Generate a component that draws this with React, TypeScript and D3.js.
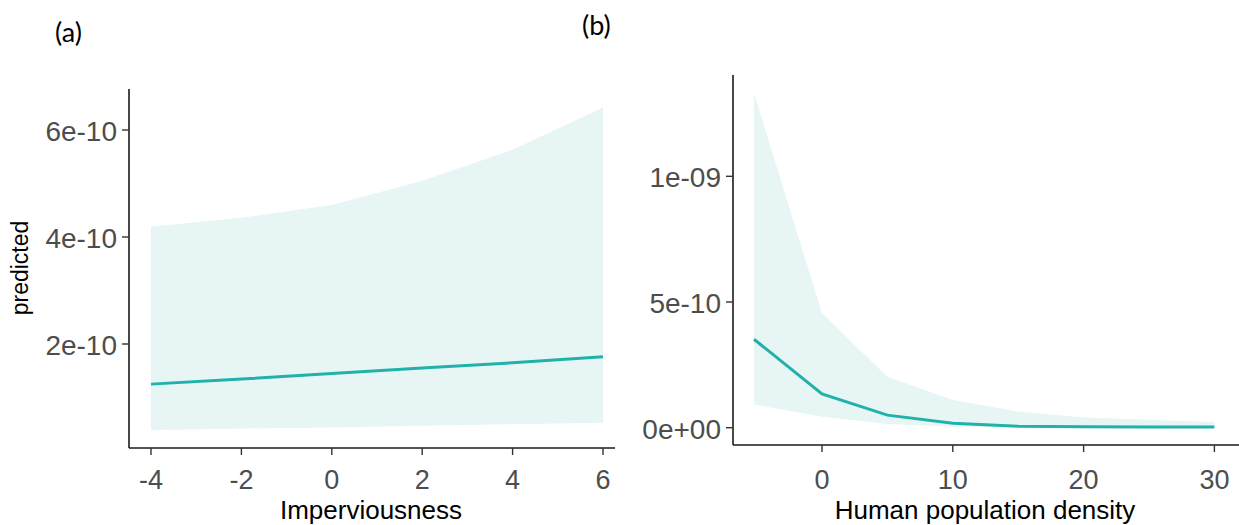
import React from "react";
import * as d3 from "d3";

// Panel (a): Imperviousness
const xA = [-4, -2, 0, 2, 4, 6];
const predA = [1.25e-10, 1.345e-10, 1.45e-10, 1.55e-10, 1.65e-10, 1.76e-10];
const lowA = [3.9e-11, 4.2e-11, 4.4e-11, 4.7e-11, 5.0e-11, 5.3e-11];
const highA = [4.19e-10, 4.36e-10, 4.6e-10, 5.05e-10, 5.63e-10, 6.42e-10];
const xTicksA = [-4, -2, 0, 2, 4, 6];
const yTicksA = [2e-10, 4e-10, 6e-10];
const yTickLabelsA = ["2e-10", "4e-10", "6e-10"];

// Panel (b): Human population density
const xB = [-5.2, 0, 5, 10, 15, 20, 25, 30];
const predB = [3.52e-10, 1.34e-10, 5.0e-11, 1.8e-11, 6e-12, 4e-12, 3e-12, 3e-12];
const lowB = [9.2e-11, 4.4e-11, 1.5e-11, 4e-12, 1.5e-12, 0.5e-12, 0.2e-12, 0.1e-12];
const highB = [1.331e-9, 4.55e-10, 2.03e-10, 1.1e-10, 6.4e-11, 4.1e-11, 3.2e-11, 2.3e-11];
const xTicksB = [0, 10, 20, 30];
const yTicksB = [0, 5e-10, 1e-9];
const yTickLabelsB = ["0e+00", "5e-10", "1e-09"];

const LINE = "#20b2aa";
const RIBBON = "#e7f6f5";
const TICK_TXT = "#4d4d4d";
const FONT = "'Liberation Sans', Arial, sans-serif";

type Panel = {
  xs: number[]; pred: number[]; low: number[]; high: number[];
  xTicks: number[]; yTicks: number[]; yLabels: string[];
  x: d3.ScaleLinear<number, number>; y: d3.ScaleLinear<number, number>;
  left: number; right: number; top: number; bottom: number;
  xTitle: string; xTitleX: number;
};

function PanelView({ p }: { p: Panel }) {
  const rows = p.xs.map((v, i) => ({ x: v, m: p.pred[i], lo: p.low[i], hi: p.high[i] }));
  const area = d3.area<any>().x(d => p.x(d.x)).y0(d => p.y(d.lo)).y1(d => p.y(d.hi));
  const line = d3.line<any>().x(d => p.x(d.x)).y(d => p.y(d.m));
  return (
    <g>
      <path d={area(rows) || ""} fill={RIBBON} stroke="none" />
      <path d={line(rows) || ""} fill="none" stroke={LINE} strokeWidth={3} />
      <line x1={p.left} x2={p.left} y1={p.top} y2={p.bottom} stroke="#1a1a1a" strokeWidth={1.6} />
      <line x1={p.left} x2={p.right} y1={p.bottom} y2={p.bottom} stroke="#1a1a1a" strokeWidth={1.6} />
      {p.yTicks.map((t, i) => (
        <g key={"y" + i}>
          <line x1={p.left - 7} x2={p.left} y1={p.y(t)} y2={p.y(t)} stroke="#333" strokeWidth={1.4} />
          <text x={p.left - 12} y={p.y(t) + 11} textAnchor="end" fontFamily={FONT} fontSize={28} fill={TICK_TXT}>{p.yLabels[i]}</text>
        </g>
      ))}
      {p.xTicks.map((t, i) => (
        <g key={"x" + i}>
          <line x1={p.x(t)} x2={p.x(t)} y1={p.bottom} y2={p.bottom + 7} stroke="#333" strokeWidth={1.4} />
          <text x={p.x(t)} y={489} textAnchor="middle" fontFamily={FONT} fontSize={27} fill={TICK_TXT}>{String(t)}</text>
        </g>
      ))}
      <text x={p.xTitleX} y={519} textAnchor="middle" fontFamily={FONT} fontSize={26} fill="#000">{p.xTitle}</text>
    </g>
  );
}

export default function App() {
  const panelA: Panel = {
    xs: xA, pred: predA, low: lowA, high: highA,
    xTicks: xTicksA, yTicks: yTicksA, yLabels: yTickLabelsA,
    x: d3.scaleLinear().domain([-4, 6]).range([151, 603]),
    y: d3.scaleLinear().domain([0, 6e-10]).range([451, 130]),
    left: 129, right: 615, top: 89, bottom: 448,
    xTitle: "Imperviousness", xTitleX: 371,
  };
  const panelB: Panel = {
    xs: xB, pred: predB, low: lowB, high: highB,
    xTicks: xTicksB, yTicks: yTicksB, yLabels: yTickLabelsB,
    x: d3.scaleLinear().domain([0, 30]).range([822, 1214.4]),
    y: d3.scaleLinear().domain([0, 1e-9]).range([427.7, 176.3]),
    left: 733, right: 1239, top: 75, bottom: 445,
    xTitle: "Human population density", xTitleX: 985,
  };
  return (
    <svg width={1239} height={525} style={{ position: "absolute", left: 0, top: 0, background: "#fff" }}>
      <rect width={1239} height={525} fill="#fff" />
      <PanelView p={panelA} />
      <PanelView p={panelB} />
      <text transform="translate(28,268) rotate(-90)" textAnchor="middle" fontFamily={FONT} fontSize={23} fill="#000">predicted</text>
      <text x={55} y={42} fontFamily="Lato, 'Open Sans', sans-serif" fontSize={27} fill="#000">(a)</text>
      <text x={582} y={35} fontFamily="Lato, 'Open Sans', sans-serif" fontSize={27} fill="#000">(b)</text>
    </svg>
  );
}
